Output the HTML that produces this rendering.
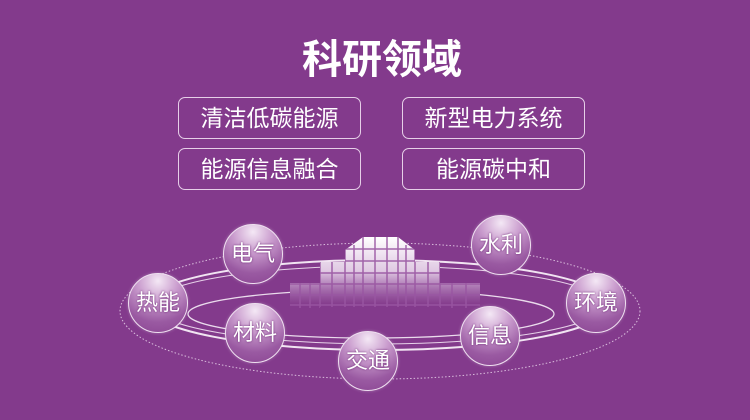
<!DOCTYPE html>
<html><head><meta charset="utf-8"><style>
html,body{margin:0;padding:0}
body{width:750px;height:420px;background:#833a8c;position:relative;overflow:hidden;font-family:"Liberation Sans","Noto Sans CJK SC",sans-serif;color:#fff}
.t{position:absolute;left:0;width:764px;top:36px;text-align:center;font-size:40px;font-weight:bold;line-height:48px}
.b{position:absolute;width:181px;height:40px;border:1.5px solid #e6cfe8;border-radius:7px;text-align:center;line-height:40px;font-size:23px}
.c{position:absolute;width:58px;height:58px;border-radius:50%;border:1px solid #efe0f0;background:radial-gradient(circle at 50% 12%,#f4e8f5 0%,#c99bcd 35%,#9a5aa2 70%,#8a4492 100%);text-align:center;line-height:58px;font-size:22px;text-shadow:0 0 2px #6a2572;box-shadow:0 0 3px rgba(255,255,255,.3)}
</style></head><body>
<div class="t">科研领域</div>
<div class="b" style="left:178px;top:97px">清洁低碳能源</div>
<div class="b" style="left:402px;top:97px">新型电力系统</div>
<div class="b" style="left:178px;top:148px">能源信息融合</div>
<div class="b" style="left:402px;top:148px">能源碳中和</div>
<svg width="750" height="420" style="position:absolute;left:0;top:0">
<defs>
<linearGradient id="g" x1="0" y1="237" x2="0" y2="305" gradientUnits="userSpaceOnUse">
<stop offset="0" stop-color="#fff" stop-opacity="1"/>
<stop offset="0.5" stop-color="#f0e2f2" stop-opacity=".85"/>
<stop offset="1" stop-color="#c9a0cf" stop-opacity="0"/>
</linearGradient>
<clipPath id="cp">
<path d="M363 237h35v70h-35zM345 250l18-13v70h-18zM398 237l17 13v57h-17zM320 262h25v45h-25zM415 262h25v45h-25zM290 283h30v25h-30zM440 283h40v25h-40z"/>
</clipPath>
</defs>
<ellipse cx="380" cy="311" rx="260" ry="68" fill="none" stroke="#d9bcdc" stroke-width="1" stroke-dasharray="1.5 2"/>
<ellipse cx="378" cy="305" rx="232" ry="45" fill="none" stroke="#f1e4f2" stroke-width="2"/>
<ellipse cx="378" cy="305" rx="226" ry="39" fill="none" stroke="#e6d0e8" stroke-width="1"/>
<ellipse cx="371" cy="314" rx="183" ry="24" fill="none" stroke="#eadbec" stroke-width="1.3"/>
<g clip-path="url(#cp)">
<rect x="280" y="230" width="210" height="80" fill="#833a8c"/>
<rect x="280" y="230" width="210" height="80" fill="url(#g)"/>
<g stroke="#9a57a2" stroke-width="1.5" opacity=".9">
<path d="M300 245V310M310 245V310M320 245V310M332 245V310M345 245V310M354 245V310M363 230V310M375 230V310M387 230V310M398 230V310M406 245V310M415 245V310M428 245V310M440 245V310M452 245V310M466 245V310"/>
<path d="M280 249H490M280 261H490M280 273H490M280 284H490M280 295H490M280 305H490"/>
</g>
</g>
</svg>
<div class="c" style="left:223px;top:224px">电气</div>
<div class="c" style="left:471px;top:215px">水利</div>
<div class="c" style="left:128px;top:273px">热能</div>
<div class="c" style="left:566px;top:273px">环境</div>
<div class="c" style="left:225px;top:303px">材料</div>
<div class="c" style="left:460px;top:306px">信息</div>
<div class="c" style="left:338px;top:331px">交通</div>
</body></html>
